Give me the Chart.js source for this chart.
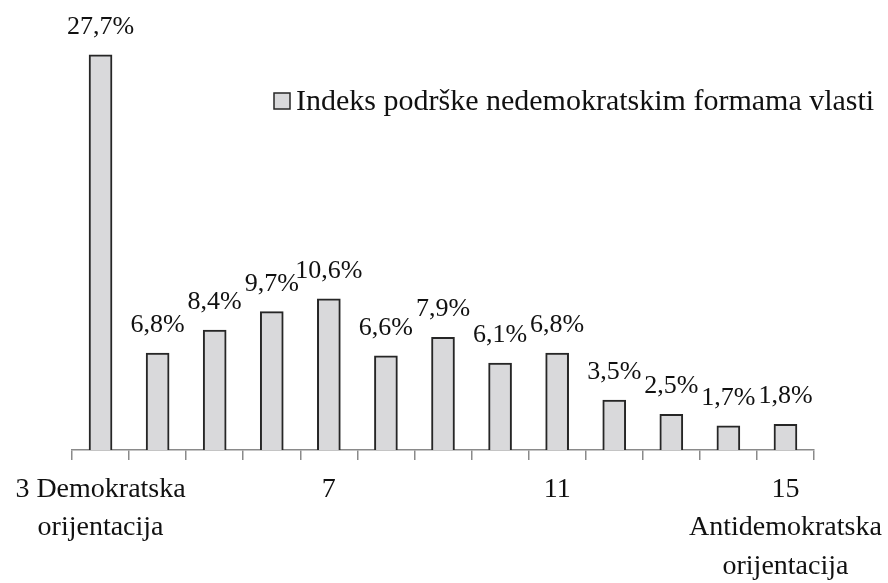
<!DOCTYPE html>
<html>
<head>
<meta charset="utf-8">
<script src="https://cdn.jsdelivr.net/npm/chart.js@4"></script>
<style>
  html, body { margin: 0; padding: 0; background: #fff; }
  #wrap { width: 888px; height: 583px; }
</style>
</head>
<body>
<div id="wrap"><canvas id="indexChart"></canvas></div>
<script>
// --- Data ---
const categories = ['3', '4', '5', '6', '7', '8', '9', '10', '11', '12', '13', '14', '15'];
const tickLabels = [
    ['3 Demokratska', 'orijentacija'], '', '', '', '7', '', '', '', '11', '', '', '',
    ['15', 'Antidemokratska', 'orijentacija']
];
const supportValues = [27.7, 6.8, 8.4, 9.7, 10.6, 6.6, 7.9, 6.1, 6.8, 3.5, 2.5, 1.7, 1.8];
const seriesName = 'Indeks podrške nedemokratskim formama vlasti';

const FONT = '"Liberation Serif", "Times New Roman", serif';
const BAR_FILL = '#d9d9db';
const BAR_EDGE = '#262626';

// value labels above bars, e.g. "27,7%"
const valueLabels = {
    id: 'valueLabels',
    afterDatasetsDraw(chart) {
        const ctx = chart.ctx;
        const meta = chart.getDatasetMeta(0);
        ctx.save();
        ctx.font = '26px ' + FONT;
        ctx.fillStyle = '#111';
        ctx.textAlign = 'center';
        ctx.textBaseline = 'alphabetic';
        meta.data.forEach((bar, i) => {
            const txt = supportValues[i].toFixed(1).replace('.', ',') + '%';
            ctx.fillText(txt, bar.x, bar.y - 21);
        });
        ctx.restore();
    }
};

// simple legend in the upper right
const boxLegend = {
    id: 'boxLegend',
    afterDraw(chart) {
        const ctx = chart.ctx;
        ctx.save();
        ctx.fillStyle = BAR_FILL;
        ctx.strokeStyle = BAR_EDGE;
        ctx.lineWidth = 1.5;
        ctx.fillRect(274, 93, 16, 16);
        ctx.strokeRect(274, 93, 16, 16);
        ctx.font = '30px ' + FONT;
        ctx.fillStyle = '#111';
        ctx.textAlign = 'left';
        ctx.textBaseline = 'middle';
        ctx.fillText(chart.data.datasets[0].label, 296, 102);
        ctx.restore();
    }
};

const ctx = document.getElementById('indexChart').getContext('2d');
new Chart(ctx, {
    type: 'bar',
    data: {
        labels: categories,
        datasets: [{
            label: seriesName,
            data: supportValues,
            backgroundColor: BAR_FILL,
            borderColor: BAR_EDGE,
            borderWidth: 2,
            barThickness: 23
        }]
    },
    options: {
        responsive: true,
        maintainAspectRatio: false,
        animation: false,
        layout: { padding: { top: 22, left: 72, right: 74, bottom: 0 } },
        plugins: {
            legend: { display: false },
            tooltip: { enabled: false }
        },
        scales: {
            x: {
                offset: true,
                afterFit(scale) {
                    // keep the plot width fixed; long end labels may hang over
                    scale.height = 133;
                    scale.paddingLeft = 0;
                    scale.paddingRight = 0;
                },
                grid: {
                    offset: true,
                    drawOnChartArea: false,
                    drawTicks: true,
                    tickLength: 10,
                    color: '#8a8a8a',
                    lineWidth: 1.5
                },
                border: { color: '#8a8a8a', width: 1.5 },
                ticks: {
                    autoSkip: false,
                    maxRotation: 0,
                    padding: 10,
                    color: '#111',
                    font: { family: FONT, size: 28, lineHeight: 1.38 },
                    callback: (v, i) => tickLabels[i]
                }
            },
            y: {
                display: false,
                min: 0,
                max: 30
            }
        }
    },
    plugins: [valueLabels, boxLegend]
});
</script>
</body>
</html>
